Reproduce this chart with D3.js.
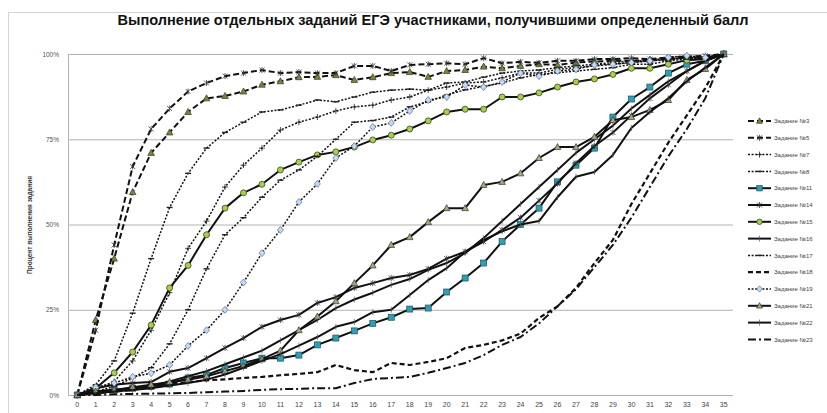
<!DOCTYPE html>
<html>
<head>
<meta charset="utf-8">
<script src="https://cdn.jsdelivr.net/npm/d3@7"></script>
<style>
  body { margin: 0; background: #fff; }
  svg { display: block; font-family: "Liberation Sans", Arial, sans-serif; }
</style>
</head>
<body>
<div id="chart"></div>
<script>
// Баллы (ось X)
const scores = [0,1,2,3,4,5,6,7,8,9,10,11,12,13,14,15,16,17,18,19,20,21,22,23,24,25,26,27,28,29,30,31,32,33,34,35];
const yTicks = [0, 25, 50, 75, 100];

// Процент выполнения по заданиям
const task3  = [0,22,40,59.5,71,77,83,87,87.7,89,91,92,93.2,93.3,93.8,92.4,93.2,94.4,94.7,93.3,95,95.3,96.3,95.8,96.5,97,96.8,97.5,97.8,98,98,98.3,98.5,99,98.5,100];
const task5  = [0,19,44,67,78,84,89,91.5,93.5,94.4,95.3,94.4,94.7,94.4,94.4,96.5,96.5,95,96.8,97,97.3,97,98.8,97.3,97.7,97.4,98,98,98.5,98.5,98.8,98.5,99,99.2,99.5,100];
const task7  = [0,1.5,4,10,19,30,43,51,61,67.4,72.4,77.7,80,81.5,83.3,84.5,85,86.5,87.4,89.4,90.3,91.5,91.8,93,94.4,94.4,95.5,96,96.5,97,97.5,98,98.3,98.8,99,100];
const task8  = [0,3,10,24,40,55,65,72.4,77,80,83,83.6,85,86.5,86,87.4,88.8,89.4,89.7,89.4,91.5,91.8,93.2,94.4,95,95.3,96,96.5,97,97.5,98,98,98.5,99,99,100];
const task11 = [0,1,1.5,2,2.5,3.2,5,5.9,7.9,9.4,10.8,10.8,11.7,14.7,16.7,18.8,21,22.8,25.2,25.5,30.2,34.3,38.7,45,50,54.8,62.5,67.4,72.4,81.5,86.8,90.3,94.4,97,98,100];
const task14 = [0,2,3,3.5,3.8,6.8,7.9,10.8,13.8,16.7,20,22,23.5,27,28.7,31.4,32.8,34.3,35.2,37,40,42,45,48.4,52,57,62,68,73,77,82,87,91,95,98,100];
const task15 = [0,2,6.5,12.6,20.5,31.4,38,47,54.8,59.3,61.8,66,68.3,70.4,71.3,72.7,74.8,76.2,78,80.4,83,83.8,83.8,87.4,87.4,88.6,90.3,91.8,92.7,94,95.8,95.8,97,98.2,98.5,100];
const task16 = [0,1,1.5,2,2.5,4,5.5,7,9,11,13,16,19,22,25.5,28,30,32.3,34,36.7,38.7,41.6,46,51,56,61,66,71,75,79,84,88,92,95,98,100];
const task17 = [0,1,2.5,5,8,15,25,37,47,52,58,63,66,70,75,80,80.5,81.5,84.5,86,88,89.5,90.5,91.5,93,94,94.5,95,95.5,96,97,97,98,98.5,99,100];
const task18 = [0,0.5,1,1.5,2.5,3,3.8,4.3,4.6,5,5.3,5.8,6.2,6.7,8.8,7.3,6.7,9.4,8.8,9.7,10.8,13.8,14.7,16,18,22.6,26,31.4,38.7,45.5,56,65,74,82,90,100];
const task19 = [0,2.3,3.5,5.3,6.4,8.8,14.4,19,25,33,41.6,48.4,56.6,61.9,69.5,73,78.6,79.8,83.3,86.5,87.4,90.9,90.3,91.8,94.4,93.5,95,95.5,96.8,97,97.5,98,99,99.5,99,100];
const task21 = [0,1,1.5,2.3,3,3.8,4.5,5.5,7,8.5,10.5,13,19,23,27.5,32.8,38,44,46.3,50.7,54.8,54.8,61.6,62.5,65,69.5,72.7,72.7,75.7,80.6,81.5,83.6,86.5,92.4,95.6,100];
const task22 = [0,0.5,1,1.5,2,2.8,3.5,4.5,6,8,10,12,14.5,17,20,21.4,24.3,25,29.3,33.7,37.2,42,45.5,48,50,51,58,64,65.4,70.4,78.3,83,87,92,96,100];
const task23 = [0,0,0.2,0.3,0.4,0.5,0.6,0.8,1,1.2,1.5,1.7,1.8,2,2,3.5,4.7,5,5.3,6.5,7.9,9.4,11.7,14.7,17,21,26,31,37.5,44,52,61,70,78,87,100];

const seriesNames = ["Задание №3","Задание №5","Задание №7","Задание №8","Задание №11","Задание №14","Задание №15","Задание №16","Задание №17","Задание №18","Задание №19","Задание №21","Задание №22","Задание №23"];
const seriesValues = [task3, task5, task7, task8, task11, task14, task15, task16, task17, task18, task19, task21, task22, task23];

// оформление линий
const styles = [
  { dash: "6,3", w: 2, marker: "tri", fill: "#6f8f2e" },
  { dash: "6,3", w: 2, marker: "x", fill: "#000" },
  { dash: "2,1.6", w: 1.5, marker: "plus", fill: "#000" },
  { dash: "2,1.6", w: 1.5, marker: "dash", fill: "#000" },
  { dash: null, w: 2, marker: "sq", fill: "#2f9fb4" },
  { dash: null, w: 2, marker: "x", fill: "#000" },
  { dash: null, w: 2, marker: "circ", fill: "#a8cf4c" },
  { dash: null, w: 2, marker: "tick", fill: "#000" },
  { dash: "2,1.6", w: 1.5, marker: "dash", fill: "#000" },
  { dash: "5,3", w: 2.2, marker: null, fill: null },
  { dash: "2,1.6", w: 1.5, marker: "diam", fill: "#c6d9ef" },
  { dash: null, w: 2, marker: "tri", fill: "#a8a67c" },
  { dash: null, w: 2, marker: "tick", fill: "#000" },
  { dash: "8,3,2,3", w: 2, marker: null, fill: null }
];

const width = 827, height = 413;
const svg = d3.select("#chart").append("svg")
  .attr("width", width).attr("height", height);

// рамка диаграммы
svg.append("rect").attr("x", 8.5).attr("y", 12.5).attr("width", 830).attr("height", 410)
  .attr("fill", "#fff").attr("stroke", "#d4d4d4");

const x = d3.scaleBand().domain(scores).range([68, 733]);
const y = d3.scaleLinear().domain([0, 100]).range([395, 54]);
const cx = d => x(d) + x.bandwidth() / 2;

// сетка
svg.append("g").selectAll("line").data(yTicks).join("line")
  .attr("x1", 68).attr("x2", 733)
  .attr("y1", d => y(d) + 0.5).attr("y2", d => y(d) + 0.5)
  .attr("stroke", "#b3b3b3").attr("stroke-width", 1);
svg.append("line").attr("x1", 68.5).attr("x2", 68.5).attr("y1", y(100)).attr("y2", y(0))
  .attr("stroke", "#b3b3b3");

// подписи осей
const yAxis = svg.append("g").attr("transform", "translate(62,0)")
  .call(d3.axisLeft(y).tickValues(yTicks).tickFormat(d => d + "%").tickSize(0));
yAxis.select(".domain").remove();
yAxis.selectAll("text").attr("font-size", 6.5).attr("fill", "#555");

const xAxis = svg.append("g").attr("transform", "translate(0,399)")
  .call(d3.axisBottom(x).tickSize(0));
xAxis.select(".domain").remove();
xAxis.selectAll("text").attr("font-size", 7).attr("fill", "#444");

svg.append("text")
  .attr("transform", "translate(32,225) rotate(-90)")
  .attr("text-anchor", "middle").attr("font-size", 6.5).attr("font-weight", "bold")
  .attr("fill", "#333").text("Процент выполнения задания");

svg.append("text")
  .attr("x", 433).attr("y", 25).attr("text-anchor", "middle")
  .attr("font-size", 15).attr("font-weight", "bold").attr("fill", "#111")
  .attr("textLength", 631).attr("lengthAdjust", "spacingAndGlyphs")
  .text("Выполнение отдельных заданий ЕГЭ участниками, получившими определенный балл");

// маркеры
function drawMarker(g, type, px, py, fill, s) {
  s = s || 1;
  if (type === "tri") {
    g.append("path").attr("d", `M${px},${py - 3.5 * s}L${px + 3.3 * s},${py + 2.5 * s}L${px - 3.3 * s},${py + 2.5 * s}Z`)
      .attr("fill", fill).attr("stroke", "#333").attr("stroke-width", 0.7);
  } else if (type === "sq") {
    g.append("rect").attr("x", px - 3 * s).attr("y", py - 3 * s).attr("width", 6 * s).attr("height", 6 * s)
      .attr("fill", fill).attr("stroke", "#1d4f5c").attr("stroke-width", 0.7);
  } else if (type === "circ") {
    g.append("circle").attr("cx", px).attr("cy", py).attr("r", 3 * s)
      .attr("fill", fill).attr("stroke", "#3a4a1a").attr("stroke-width", 0.8);
  } else if (type === "diam") {
    g.append("path").attr("d", `M${px},${py - 3.5 * s}L${px + 3 * s},${py}L${px},${py + 3.5 * s}L${px - 3 * s},${py}Z`)
      .attr("fill", fill).attr("stroke", "#5b7fb0").attr("stroke-width", 0.8);
  } else if (type === "x") {
    g.append("path").attr("d", `M${px - 2.5},${py - 2.5}L${px + 2.5},${py + 2.5}M${px - 2.5},${py + 2.5}L${px + 2.5},${py - 2.5}M${px},${py - 3}L${px},${py + 3}`)
      .attr("stroke", "#333").attr("stroke-width", 0.8);
  } else if (type === "plus") {
    g.append("path").attr("d", `M${px - 3},${py}L${px + 3},${py}M${px},${py - 3}L${px},${py + 3}`)
      .attr("stroke", "#222").attr("stroke-width", 0.8);
  } else if (type === "dash") {
    g.append("path").attr("d", `M${px - 3},${py}L${px + 3},${py}`)
      .attr("stroke", "#222").attr("stroke-width", 1.4);
  } else if (type === "tick") {
    g.append("path").attr("d", `M${px},${py - 3}L${px},${py + 3}`)
      .attr("stroke", "#555").attr("stroke-width", 0.7);
  }
}

const line = d3.line().x((d, i) => cx(scores[i])).y(d => y(d));

seriesValues.forEach((vals, k) => {
  const st = styles[k];
  const g = svg.append("g");
  g.append("path").attr("d", line(vals))
    .attr("fill", "none").attr("stroke", "#111").attr("stroke-width", st.w)
    .attr("stroke-dasharray", st.dash).attr("stroke-linejoin", "round");
  if (st.marker) {
    vals.forEach((v, i) => drawMarker(g, st.marker, cx(scores[i]), y(v), st.fill, 1));
  }
});

// легенда
const legend = svg.append("g");
seriesNames.forEach((name, k) => {
  const st = styles[k];
  const ly = 121 + k * 16.8;
  legend.append("line").attr("x1", 748).attr("x2", 771).attr("y1", ly).attr("y2", ly)
    .attr("stroke", "#111").attr("stroke-width", st.w).attr("stroke-dasharray", st.dash);
  if (st.marker) drawMarker(legend, st.marker, 759.5, ly, st.fill, 0.9);
  legend.append("text").attr("x", 774).attr("y", ly + 2.2)
    .attr("font-size", 6).attr("fill", "#444").text(name);
});
</script>
</body>
</html>
